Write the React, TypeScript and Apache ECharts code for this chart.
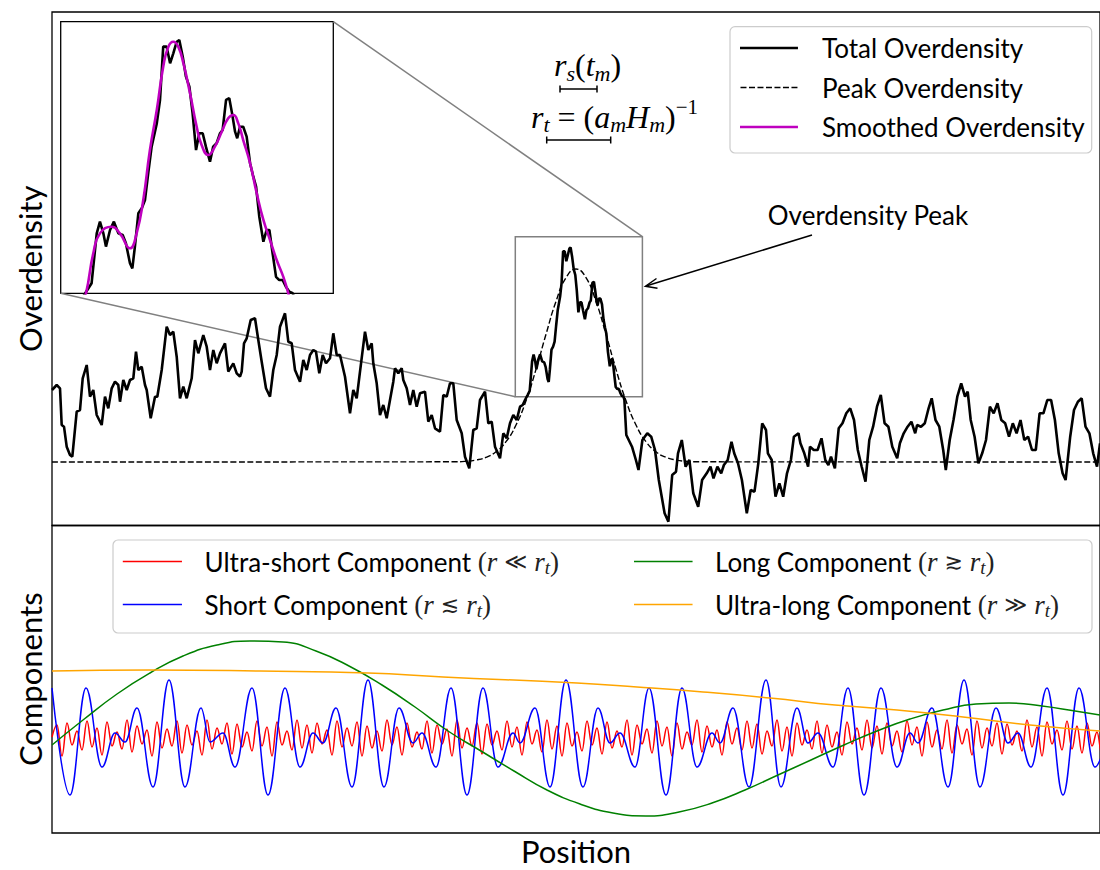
import React, { useEffect, useRef } from 'react';
import * as echarts from 'echarts';

// ---------------- data (position units along the x axis) ----------------
const positionRange = [0, 1048];
const overdensityRange = [-63.5, 450];
const componentRange = [-93, 214.5];
const insetPosRange = [463.3, 590.4];
const insetValRange = [65.3, 225.3];

const totalOverdensity: number[][] = [
  [0,72],[4.7,77],[8,73.7],[9.7,37],[12,35.3],[14.7,15.3],[18,7],[20.3,5.3],[21.3,15.3],[24.7,50.3],[28,52],[30.7,83.7],[34.7,97],[38,65.3],[41.3,72],[44.7,47],[49.7,37],[53,65.3],[56.3,53.7],[59.7,73.7],[63,80.3],[66.3,77],[68,60.3],[71.3,82],[74.7,72],[78,82],[81.3,83.7],[84,110.3],[86.3,92],[89.7,95.3],[93,77],[94.7,72],[98.7,43.7],[103,65.3],[105.3,65.3],[109.7,92],[114.7,135.3],[118,127],[121.3,130.3],[124.7,105.3],[128,63.7],[131.3,75.3],[134.7,63.7],[139.7,83.7],[143,122],[146.3,108.7],[151.3,127],[154.7,115.3],[158,92],[161.3,112],[164.7,98.7],[168,108.7],[173,118.7],[176.3,90.3],[181.3,98.7],[184.7,88.7],[188,85.3],[189.7,90.3],[192,118.7],[194.7,123.7],[198.7,142],[203,143.7],[206.3,122],[209.7,100.3],[214,73.7],[218,65.3],[221.3,92],[224.7,107],[228,135.3],[233,148.7],[236.3,120.3],[239.7,118.7],[243,92],[248,80.3],[251.3,102],[254.7,92],[258,107],[261.3,112],[264,110.3],[267.3,88.7],[270.7,107],[274,98.7],[278,103.7],[281.3,128.7],[284.7,107],[288,107],[293,85.3],[298,48.7],[301.3,72],[304.7,63.7],[308,90.3],[313,130.3],[316.3,112],[319.7,118.7],[321.3,98.7],[324.7,78.7],[328,47],[331.3,57],[334.7,43.7],[338,62],[341.3,80.3],[343,93.7],[346.3,88.7],[349.7,93.7],[351.3,82],[354.7,73.7],[358,57],[361.3,72],[364.7,55.3],[368,68.7],[373,70.3],[376.3,40.3],[379.7,47],[383,33.7],[388,30.3],[391.3,67],[394.7,65.3],[398,78.7],[401.3,78.7],[404.7,42],[409.7,28.7],[413,5.3],[417.3,-6.3],[421.3,32],[424.7,33.7],[428,62],[433,70.3],[436.3,38.7],[439.7,40.3],[443,15.3],[448,3.7],[451.3,28.7],[454.7,23.7],[458,38.7],[461.3,47],[464.7,42],[468,55.3],[470.7,57],[473,62],
  [475.7,67.2],[477.7,71.2],[480.1,100.6],[481.6,107.5],[483.2,100.6],[484.4,92.8],[486.3,102.6],[488.1,107.5],[490.2,100.6],[492.2,99.6],[493.7,94.8],[495.6,83],[496.7,80],[497.9,92.8],[499.5,112.4],[501.1,115.4],[502.6,120.3],[504.1,136],[505.7,151.7],[508.1,165.4],[509.6,179.2],[511.1,210.6],[512.7,210.6],[514.3,200.8],[515.8,206.7],[517.4,213.5],[518.6,214.5],[520.2,204.7],[521.7,192.9],[523.3,187],[524.8,171.3],[526.4,149.7],[527.9,159.6],[529.5,159.6],[531,151.7],[532.9,142.8],[534.4,151.7],[536,153.7],[537.6,159.6],[538.8,161.5],[540.4,179.2],[541.9,180.2],[543.2,171.3],[544.6,160.5],[545.6,156.6],[546.9,163.4],[548.4,163.4],[550,157.6],[551.6,141.9],[553.1,134],[554.4,128.1],[555.9,110.4],[557.8,95.7],[559.3,102.6],[560.6,102.6],[562.1,88.9],[563.7,75],[565.2,73.1],[566.8,73.1],[568.3,69.2],[569.9,66.2],[571.5,65.3],[572.4,62],
  [574.3,27],[580,15.3],[583.9,2],[586.5,-8],[590.4,22],[595.3,28.7],[599.2,25.3],[603,12],[606.8,-18],[612.6,-51.3],[616.4,-59.7],[620.2,-13],[624,-9.7],[626,8.7],[629.8,22],[633.6,-4.7],[637.4,2],[641.3,-31.3],[646.2,-44.7],[650.1,-18],[654.7,-11.3],[658.5,-4.7],[661.5,-16.3],[665.4,-4.7],[669.2,-11.3],[671.9,-3],[675.7,2],[679.5,20.3],[682.2,8.7],[686,-1.3],[689.9,-18],[694.8,-51.3],[698.7,-28],[702.5,-29.7],[706.3,-1.3],[710.2,38.7],[714,32],[715.9,8.7],[719.7,2],[723.5,-34.7],[727.4,-21.3],[731.2,-34.7],[735,-11.3],[738.9,2],[741.9,25.3],[746.5,28.7],[748.4,18.7],[752.3,8.7],[756.1,-4.7],[758,15.3],[761.8,12],[765.6,12],[769.5,23.7],[773.3,2],[776.4,-3],[779,5.3],[782.9,-6.3],[786.7,33.7],[790.5,38.7],[794.3,48.7],[798.2,53.7],[802,42],[805.8,12],[809.7,-4.7],[813.5,-19.7],[817.3,22],[821.1,35.3],[825,55.3],[828.8,67],[832.6,38.7],[836.4,35.3],[840.3,15.3],[845.2,3.7],[847.9,18.7],[851.7,28.7],[855.6,35.3],[859.4,40.3],[863.2,28.7],[865.1,37],[869,35.3],[872.8,38.7],[876.6,53.7],[879.7,63.7],[883.5,42],[887.3,35.3],[891.2,12],[893.8,-8],[897.7,22],[901.5,42],[905.3,65.3],[909.2,78.7],[913,65.3],[915.7,70.3],[918.7,42],[922.6,25.3],[926.4,-1.3],[930.2,8.7],[934,22],[937.9,55.3],[941.7,48.7],[945.5,58.7],[949.3,42],[953.2,38.7],[957,25.3],[960.8,38.7],[964.6,28.7],[968.5,42],[972.3,22],[976.1,25.3],[980,12],[983.8,12],[987.6,48.7],[991.4,48.7],[995.3,62],[999.1,62],[1002.9,42],[1006.7,8.7],[1010.6,-11.3],[1013.6,-18],[1018.2,25.3],[1022,52],[1025.9,60.3],[1029.7,63.7],[1033.5,35.3],[1037.4,28.7],[1041.2,8.7],[1045,-4.7],[1048,18.7]
];

const peakOverdensity: number[][] = [
  [0,0],[404,0.2],[414,0.7],[424,2],[434,4.7],[444,10.2],[454,20.3],[464,37],[474,61.2],[484,92.6],[494,127.7],[504,160.6],[514,184.3],[524,193],
  [534,184.3],[544,160.6],[554,127.7],[564,92.6],[574,61.2],[584,37],[594,20.3],[604,10.2],[614,4.7],[624,2],[634,0.7],[644,0.2],[1048,0]
];

const smoothedOverdensity: number[][] = [
  [468,32],[475.1,65.3],[478.5,88.9],[481.6,100.6],[487.1,104.5],[490.9,100.6],[495.6,91.8],[498.7,100.6],[501.8,120.3],[504.9,149.7],[508.1,173.3],[511.1,198.8],[513.5,210.6],[515.8,213.5],[518.1,210.6],[520.5,200.8],[523.6,183.1],[526.7,163.4],[529,152.7],[532.1,146.8],[535.2,151.7],[538.4,160.5],[541.4,168.4],[543.8,170.3],[546.1,165.4],[548.4,155.6],[551.6,141.9],[554.7,124.2],[557.8,108.5],[560.9,96.7],[564,84.9],[567.1,75],[569.4,65.3],[576,32]
];

// ultra-short component: turning points sampled every 5 position units
const ultraShortStep = 5;
const ultraShortComponent = [
  3, 15, -16, 17, -5, 9, -10, 19, -7, 12, -15, 18, -6, 8, -9, 20, -12, 14, -4, 10,
  -16, 18, -8, 11, -6, 19, -13, 15, -5, 9, -15, 20, -9, 12, -4, 17, -14, 16, -7, 8,
  -11, 19, -6, 13, -16, 18, -5, 9, -10, 20, -8, 15, -13, 17, -4, 10, -15, 19, -7, 12,
  -6, 18, -16, 14, -8, 9, -11, 20, -5, 13, -15, 17, -7, 8, -9, 19, -13, 15, -4, 11,
  -16, 20, -8, 12, -6, 17, -14, 16, -5, 9, -10, 19, -7, 13, -15, 18, -4, 10, -12, 20,
  -9, 14, -16, 17, -6, 8, -11, 19, -5, 12, -14, 18, -8, 9, -7, 20, -15, 15, -4, 11,
  -13, 19, -6, 13, -16, 17, -9, 8, -5, 20, -12, 14, -7, 10, -15, 18, -4, 12, -10, 19,
  -8, 16, -14, 9, -6, 20, -11, 13, -16, 17, -5, 10, -9, 19, -13, 15, -7, 8, -15, 18,
  -4, 12, -10, 20, -8, 14, -14, 17, -6, 9, -12, 19, -5, 13, -16, 18, -7, 10, -9, 20,
  -13, 15, -4, 11, -15, 19, -8, 12, -6, 17, -14, 16, -5, 9, -11, 20, -7, 13, -16, 18,
  -4, 10, -10, 19, -9, 14, -13, 17, -6, 8, -15, 20
];

const shortComponent: number[][] = [
  [0,52],[18,-55],[34,52],[50,-27],[63,7],[73,-2],[85,32],[101,-47],[117,60],[133,-47],[149,32],[158,-2],[171,7],[183,-27],
  [200,52],[216,-55],[233,52],[248,-27],[261,7],[271,-3],[284,32],[300,-47],[316,60],[332,-47],[347,32],[361,-3],[370,7],[384,-27],
  [399,52],[415,-55],[431,52],[446,-27],[461,7],[468,-3],[483,32],[498,-47],[514,60],[531,-47],[546,32],[558,-3],[568,7],[583,-27],
  [597,52],[614,-55],[630,52],[645,-27],[660,7],[668,-3],[681,32],[697,-47],[714,60],[729,-47],[745,32],[756,-3],[766,7],[781,-27],
  [796,52],[812,-55],[829,52],[845,-27],[858,7],[866,-3],[880,32],[896,-47],[912,60],[928,-47],[944,32],[956,-3],[966,7],[979,-27],
  [995,52],[1011,-55],[1027,52],[1043,-27],[1056,7]
];

const longComponent: number[][] = [
  [0,-5],[31,20],[65,46],[98,67],[131,84],[165,95],[198,99],[231,98],[264,89],[297,74],[330,55],[363,33],[396,9],[429,-11],[462,-31],
  [495,-50],[528,-64],[561,-73],[594,-76],[627,-72],[660,-63],[693,-50],[726,-35],[759,-20],[792,-5],[825,9],[858,21],[891,30],
  [924,36],[957,37],[990,34],[1023,29],[1048,25]
];

const ultraLongComponent: number[][] = [
  [0,69],[98,70],[208,69],[316,67],[391,63],[525,57],[585,53],[651,48],[718,42],[783,35],[845,30],[911,23],[978,15],[1048,9]
];

const overdensityNames = ['Total Overdensity', 'Peak Overdensity', 'Smoothed Overdensity'];
const componentLabels = ['Ultra-short Component', 'Short Component', 'Long Component', 'Ultra-long Component'];
const componentRelations = ['≪', '≲', '≳', '≫'];
const componentNames = componentLabels.map((l, i) => `${l} (r ${componentRelations[i]} r_t)`);

// ---------------- styles ----------------
const SANS = "Lato, 'Open Sans', 'DejaVu Sans', sans-serif";
const SERIF = "'Liberation Serif', 'DejaVu Serif', serif";

const legendRich = {
  p: { fontFamily: SERIF, fontSize: 27, lineHeight: 26, color: '#222' },
  rel: { fontFamily: "'DejaVu Sans', sans-serif", fontSize: 22, lineHeight: 26, color: '#222' },
  i: { fontFamily: SERIF, fontStyle: 'italic', fontSize: 27, lineHeight: 26, color: '#222' },
  sub: { fontFamily: SERIF, fontStyle: 'italic', fontSize: 19, lineHeight: 14, padding: [12, 0, 0, 0], color: '#222' },
};

const mathRich = {
  p: { fontFamily: SERIF, fontSize: 32, lineHeight: 36, color: '#111' },
  i: { fontFamily: SERIF, fontStyle: 'italic', fontSize: 32, lineHeight: 36, color: '#111' },
  sub: { fontFamily: SERIF, fontStyle: 'italic', fontSize: 22, lineHeight: 20, padding: [16, 0, 0, 0], color: '#111' },
  sup: { fontFamily: SERIF, fontSize: 21, lineHeight: 20, padding: [0, 0, 20, 0], color: '#111' },
};

// legend icons: thin horizontal strokes inside an itemWidth x itemHeight box
const solidIcon = (w: number, h: number, t: number) =>
  `path://M0,0h0.01v0.01h-0.01z M0,${h}h0.01v0.01h-0.01z M0,${(h - t) / 2}h${w}v${t}h-${w}z`;
const dashedIcon = (w: number, h: number, t: number, dash: number, gap: number) => {
  let d = `path://M0,0h0.01v0.01h-0.01z M0,${h}h0.01v0.01h-0.01z`;
  for (let x = 0; x + dash <= w + 0.01; x += dash + gap) d += ` M${x},${(h - t) / 2}h${dash}v${t}h-${dash}z`;
  return d;
};

export default function App() {
  const ref = useRef<HTMLDivElement>(null);

  useEffect(() => {
    if (!ref.current) return;
    const chart = echarts.init(ref.current, undefined, { renderer: 'svg' });

    const hidden = { axisLine: { show: false }, axisTick: { show: false }, axisLabel: { show: false }, splitLine: { show: false } };
    const nameStyle = { fontFamily: SANS, fontSize: 31, lineHeight: 30, color: '#000' };
    const compFormatter = (name: string) => {
      const i = componentNames.indexOf(name);
      return `${componentLabels[i]} {p|(}{i|r}{rel| ${componentRelations[i]} }{i|r}{sub|t}{p|)}`;
    };

    const option: any = {
      animation: false,
      backgroundColor: '#fff',
      grid: [
        { left: 52, top: 12, width: 1048, height: 513.5, show: true, borderColor: '#000', borderWidth: 1.3, backgroundColor: 'transparent' },
        { left: 52, top: 525.5, width: 1048, height: 307.5, show: true, borderColor: '#000', borderWidth: 1.3, backgroundColor: 'transparent' },
        { left: 60.7, top: 21.7, width: 272.6, height: 271.6, show: true, borderColor: '#000', borderWidth: 1.3, backgroundColor: '#fff' },
      ],
      xAxis: [
        { gridIndex: 0, type: 'value', min: positionRange[0], max: positionRange[1], show: false },
        { gridIndex: 1, type: 'value', min: positionRange[0], max: positionRange[1], name: 'Position', nameLocation: 'middle', nameGap: 3, nameTextStyle: nameStyle, ...hidden },
        { gridIndex: 2, type: 'value', min: insetPosRange[0], max: insetPosRange[1], show: false },
      ],
      yAxis: [
        { gridIndex: 0, type: 'value', min: overdensityRange[0], max: overdensityRange[1], name: 'Overdensity', nameLocation: 'middle', nameRotate: 90, nameGap: 7, nameTextStyle: nameStyle, ...hidden },
        { gridIndex: 1, type: 'value', min: componentRange[0], max: componentRange[1], name: 'Components', nameLocation: 'middle', nameRotate: 90, nameGap: 7, nameTextStyle: nameStyle, ...hidden },
        { gridIndex: 2, type: 'value', min: insetValRange[0], max: insetValRange[1], show: false },
      ],
      legend: [
        {
          orient: 'vertical', left: 740, top: 35, padding: 0, itemWidth: 58, itemHeight: 14, itemGap: 13.5,
          selectedMode: false, itemStyle: { borderWidth: 0 },
          data: [
            { name: overdensityNames[0], icon: solidIcon(58, 14, 2.4) },
            { name: overdensityNames[1], icon: dashedIcon(58, 14, 1.4, 6, 2.5) },
            { name: overdensityNames[2], icon: solidIcon(58, 14, 2.4) },
          ],
          textStyle: { fontFamily: SANS, fontSize: 26, lineHeight: 26, color: '#000', padding: [0, 0, 0, 19] },
        },
        {
          orient: 'vertical', left: 122.8, top: 546, padding: 0, itemWidth: 59.2, itemHeight: 14, itemGap: 12,
          selectedMode: false, itemStyle: { borderWidth: 0 },
          data: [
            { name: componentNames[0], icon: solidIcon(59.2, 14, 1.5) },
            { name: componentNames[1], icon: solidIcon(59.2, 14, 1.5) },
          ],
          formatter: compFormatter,
          textStyle: { fontFamily: SANS, fontSize: 26, lineHeight: 26, color: '#000', padding: [0, 0, 0, 17.6], rich: legendRich },
        },
        {
          orient: 'vertical', left: 634, top: 546, padding: 0, itemWidth: 58.6, itemHeight: 14, itemGap: 12,
          selectedMode: false, itemStyle: { borderWidth: 0 },
          data: [
            { name: componentNames[2], icon: solidIcon(58.6, 14, 1.5) },
            { name: componentNames[3], icon: solidIcon(58.6, 14, 1.5) },
          ],
          formatter: compFormatter,
          textStyle: { fontFamily: SANS, fontSize: 26, lineHeight: 26, color: '#000', padding: [0, 0, 0, 17.4], rich: legendRich },
        },
      ],
      series: [
        {
          name: overdensityNames[0], type: 'line', xAxisIndex: 0, yAxisIndex: 0, data: totalOverdensity,
          symbol: 'none', lineStyle: { color: '#000', width: 2.6 }, itemStyle: { color: '#000' }, z: 3,
          markArea: {
            silent: true, label: { show: false },
            itemStyle: { color: 'rgba(0,0,0,0)', borderColor: '#808080', borderWidth: 1.5 },
            data: [[{ coord: [insetPosRange[0], insetValRange[1]] }, { coord: [insetPosRange[1], insetValRange[0]] }]],
          },
        },
        {
          name: overdensityNames[1], type: 'line', xAxisIndex: 0, yAxisIndex: 0, data: peakOverdensity, smooth: 0.5,
          symbol: 'none', lineStyle: { color: '#000', width: 1.4, type: [6, 2.5] }, itemStyle: { color: '#000' }, z: 2,
        },
        {
          name: overdensityNames[0], type: 'line', xAxisIndex: 2, yAxisIndex: 2, data: totalOverdensity,
          symbol: 'none', lineStyle: { color: '#000', width: 2.6 }, itemStyle: { color: '#000' }, z: 5,
        },
        {
          name: overdensityNames[2], type: 'line', xAxisIndex: 2, yAxisIndex: 2, data: smoothedOverdensity, smooth: 0.5,
          symbol: 'none', lineStyle: { color: '#BF00BF', width: 2.6 }, itemStyle: { color: '#BF00BF' }, z: 6,
        },
        {
          name: componentNames[0], type: 'line', xAxisIndex: 1, yAxisIndex: 1,
          data: ultraShortComponent.map((v, i) => [i * ultraShortStep, v]), smooth: 0.4, smoothMonotone: 'x',
          symbol: 'none', lineStyle: { color: '#FF0000', width: 1.5 }, itemStyle: { color: '#FF0000' }, z: 2,
        },
        {
          name: componentNames[1], type: 'line', xAxisIndex: 1, yAxisIndex: 1, data: shortComponent, smooth: 0.4, smoothMonotone: 'x',
          symbol: 'none', lineStyle: { color: '#0000FF', width: 1.5 }, itemStyle: { color: '#0000FF' }, z: 3,
        },
        {
          name: componentNames[2], type: 'line', xAxisIndex: 1, yAxisIndex: 1, data: longComponent, smooth: 0.5,
          symbol: 'none', lineStyle: { color: '#008000', width: 1.5 }, itemStyle: { color: '#008000' }, z: 4,
        },
        {
          name: componentNames[3], type: 'line', xAxisIndex: 1, yAxisIndex: 1, data: ultraLongComponent, smooth: 0.5,
          symbol: 'none', lineStyle: { color: '#FFA500', width: 1.5 }, itemStyle: { color: '#FFA500' }, z: 5,
        },
      ],
    };

    chart.setOption(option);

    const trMain = chart.convertToPixel({ gridIndex: 0 }, [insetPosRange[1], insetValRange[1]]) as number[];
    const trInset = chart.convertToPixel({ gridIndex: 2 }, [insetPosRange[1], insetValRange[1]]) as number[];
    const blMain = chart.convertToPixel({ gridIndex: 0 }, [insetPosRange[0], insetValRange[0]]) as number[];
    const blInset = chart.convertToPixel({ gridIndex: 2 }, [insetPosRange[0], insetValRange[0]]) as number[];

    const bar = (x1: number, x2: number, y: number, id: string) => ({
      type: 'group', id, children: [
        { type: 'line', shape: { x1, y1: y, x2, y2: y }, style: { stroke: '#000', lineWidth: 1.5 } },
        { type: 'line', shape: { x1, y1: y - 3.5, x2: x1, y2: y + 3.5 }, style: { stroke: '#000', lineWidth: 1.5 } },
        { type: 'line', shape: { x1: x2, y1: y - 3.5, x2, y2: y + 3.5 }, style: { stroke: '#000', lineWidth: 1.5 } },
      ],
    });

    chart.setOption({
      graphic: [
        { type: 'rect', id: 'legbox1', z: 3, shape: { x: 730, y: 26.7, width: 361.7, height: 126.3, r: 5 }, style: { fill: 'rgba(255,255,255,0.8)', stroke: '#cccccc', lineWidth: 1.2 } },
        { type: 'rect', id: 'legbox2', z: 3, shape: { x: 113, y: 540, width: 979, height: 93, r: 5 }, style: { fill: 'rgba(255,255,255,0.8)', stroke: '#cccccc', lineWidth: 1.2 } },
        { type: 'line', id: 'conn1', z: 1, shape: { x1: trInset[0], y1: trInset[1], x2: trMain[0], y2: trMain[1] }, style: { stroke: '#808080', lineWidth: 1.5 } },
        { type: 'line', id: 'conn2', z: 1, shape: { x1: blInset[0], y1: blInset[1], x2: blMain[0], y2: blMain[1] }, style: { stroke: '#808080', lineWidth: 1.5 } },
        { type: 'text', id: 'peaklabel', z: 6, x: 868, y: 215, style: { text: 'Overdensity Peak', fontFamily: SANS, fontSize: 26, fill: '#000', align: 'center', verticalAlign: 'middle' } },
        { type: 'line', id: 'arrowshaft', z: 6, shape: { x1: 812, y1: 235, x2: 646, y2: 286 }, style: { stroke: '#000', lineWidth: 1.5 } },
        { type: 'polyline', id: 'arrowhead', z: 6, shape: { points: [[656.5, 278.5], [645.5, 286.2], [657.5, 288.2]] }, style: { stroke: '#000', lineWidth: 1.5, fill: 'none' } },
        { type: 'text', id: 'rs', z: 6, x: 587.5, y: 65, style: { text: '{i|r}{sub|s}{p|(}{i|t}{sub|m}{p|)}', rich: mathRich, align: 'center', verticalAlign: 'middle' } },
        { type: 'text', id: 'rt', z: 6, x: 614.5, y: 116.5, style: { text: '{i|r}{sub|t}{p| = (}{i|a}{sub|m}{i|H}{sub|m}{p|)}{sup|−1}', rich: mathRich, align: 'center', verticalAlign: 'middle' } },
        bar(560, 597, 89, 'barrs'),
        bar(546.7, 610.7, 140, 'barrt'),
      ],
    });

    return () => chart.dispose();
  }, []);

  return <div ref={ref} style={{ position: 'fixed', left: 0, top: 0, width: 1100, height: 870, background: '#fff' }} />;
}
